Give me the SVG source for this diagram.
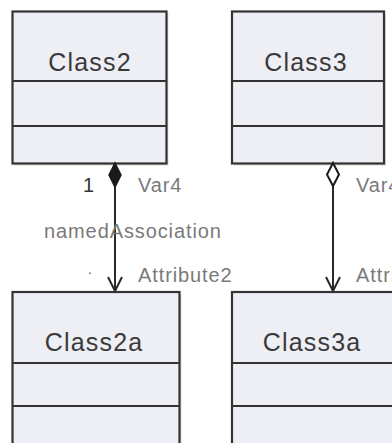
<svg xmlns="http://www.w3.org/2000/svg" width="392" height="443" viewBox="0 0 392 443">
<defs>
<style>
.shadow{fill:#c8c8cc;opacity:0.6}
.box{fill:#EEEEF5;stroke:#333;stroke-width:2.2}
.div{stroke:#333;stroke-width:2}
.cname{font-family:"Liberation Sans",Arial,sans-serif;font-size:25px;fill:#3a3a3a;text-anchor:middle;letter-spacing:1.2px}
.lbl{font-family:"Liberation Sans",Arial,sans-serif;font-size:20px;fill:#7a7a7a;letter-spacing:0.9px}
.conn{stroke:#2a2a2a;stroke-width:2;fill:none}
</style>
</defs>
<rect width="392" height="443" fill="#ffffff"/>
<g id="Class2">
<rect class="shadow" x="14.5" y="13.5" width="154" height="152"/>
<rect class="box" x="12.5" y="11.5" width="154" height="152"/>
<line class="div" x1="12.5" y1="81" x2="166.5" y2="81"/>
<line class="div" x1="12.5" y1="126" x2="166.5" y2="126"/>
<text class="cname" x="90" y="71">Class2</text>
</g>
<g id="Class3">
<rect class="shadow" x="234" y="13.5" width="152" height="152"/>
<rect class="box" x="232" y="11.5" width="152" height="152"/>
<line class="div" x1="232" y1="81" x2="384" y2="81"/>
<line class="div" x1="232" y1="126" x2="384" y2="126"/>
<text class="cname" x="306" y="71">Class3</text>
</g>
<g id="Class2a">
<rect class="shadow" x="14.5" y="294" width="167" height="160"/>
<rect class="box" x="12.5" y="292" width="167" height="160"/>
<line class="div" x1="12.5" y1="363" x2="179.5" y2="363"/>
<line class="div" x1="12.5" y1="406" x2="179.5" y2="406"/>
<text class="cname" x="94" y="351">Class2a</text>
</g>
<g id="Class3a">
<rect class="shadow" x="234" y="294" width="167" height="160"/>
<rect class="box" x="232" y="292" width="167" height="160"/>
<line class="div" x1="232" y1="363" x2="399" y2="363"/>
<line class="div" x1="232" y1="406" x2="399" y2="406"/>
<text class="cname" x="312" y="351">Class3a</text>
</g>
<g id="connectors">
<line class="conn" x1="115" y1="187" x2="115" y2="291"/>
<polygon points="115,163 121,175 115,187 109,175" fill="#1a1a1a" stroke="#1a1a1a" stroke-width="1.5"/>
<polyline class="conn" points="108,277 115,291 122,277"/>
<line class="conn" x1="333" y1="186" x2="333" y2="291"/>
<polygon points="333,163 339,174.5 333,186 327,174.5" fill="#ffffff" stroke="#1a1a1a" stroke-width="2"/>
<polyline class="conn" points="326,277 333,291 340,277"/>
<text x="83" y="192" font-family="Liberation Sans, Arial, sans-serif" font-size="20" fill="#333">1</text>
<text class="lbl" x="138" y="192">Var4</text>
<text class="lbl" x="44" y="238">namedAssociation</text>
<text x="88" y="274" font-family="Liberation Sans, Arial, sans-serif" font-size="14" fill="#5050b0">.</text>
<text class="lbl" x="138" y="282">Attribute2</text>
<text class="lbl" x="356" y="192">Var4</text>
<text class="lbl" x="356" y="282">Attribute2</text>
</g>
</svg>
